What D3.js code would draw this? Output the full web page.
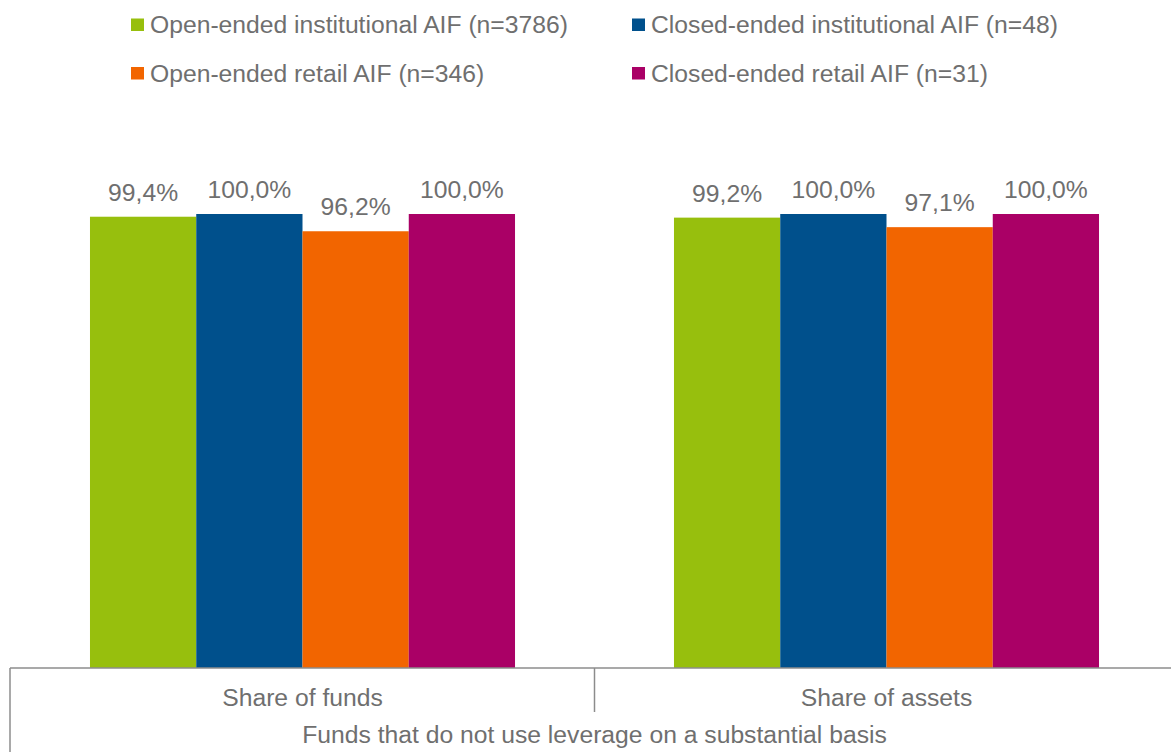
<!DOCTYPE html>
<html>
<head>
<meta charset="utf-8">
<script src="https://cdn.jsdelivr.net/npm/d3@7"></script>
<style>
  html, body { margin: 0; padding: 0; background: #fff; }
  svg { display: block; font-family: "Liberation Sans", Arial, sans-serif; }
</style>
</head>
<body>
<svg id="chart" width="1171" height="752"></svg>
<script>
// Chart data
const categories = ["Share of funds", "Share of assets"];
const seriesNames = [
  "Open-ended institutional AIF (n=3786)",
  "Closed-ended institutional AIF (n=48)",
  "Open-ended retail AIF (n=346)",
  "Closed-ended retail AIF (n=31)"
];
const seriesColors = ["#97bf0d", "#00508c", "#f26500", "#aa0066"];
const valuesOpenInst = [99.4, 99.2];
const valuesClosedInst = [100.0, 100.0];
const valuesOpenRetail = [96.2, 97.1];
const valuesClosedRetail = [100.0, 100.0];
const axisTitle = "Funds that do not use leverage on a substantial basis";

const seriesValues = [valuesOpenInst, valuesClosedInst, valuesOpenRetail, valuesClosedRetail];
const textColor = "#6f6f6f";
const lineColor = "#8c8c8c";
const fontSize = 24.7;

const svg = d3.select("#chart");

const x0 = d3.scaleBand().domain(categories).range([10.5, 1178.5]).paddingInner(0).paddingOuter(0);
const x1 = d3.scaleBand().domain(d3.range(seriesNames.length))
  .range([0, x0.bandwidth()]).paddingInner(0).paddingOuter(0.748);
const y = d3.scaleLinear().domain([0, 100]).range([668, 214]);

const fmt = v => d3.format(".1f")(v).replace(".", ",") + "%";

// Bars and value labels
const groups = svg.selectAll("g.cat").data(categories).join("g")
  .attr("class", "cat")
  .attr("transform", d => `translate(${x0(d)},0)`);

groups.each(function (cat, ci) {
  const g = d3.select(this);
  const rows = seriesValues.map((vals, si) => ({ si, v: vals[ci] }));
  g.selectAll("rect").data(rows).join("rect")
    .attr("x", d => x1(d.si))
    .attr("width", x1.bandwidth())
    .attr("y", d => y(d.v))
    .attr("height", d => y(0) - y(d.v))
    .attr("fill", d => seriesColors[d.si]);
  g.selectAll("text").data(rows).join("text")
    .attr("x", d => x1(d.si) + x1.bandwidth() / 2)
    .attr("y", d => y(d.v) - 16)
    .attr("text-anchor", "middle")
    .attr("font-size", fontSize)
    .attr("fill", textColor)
    .text(d => fmt(d.v));
});

// Category axis with group separators
const axisG = svg.append("g").attr("stroke", lineColor).attr("stroke-width", 1.5);
axisG.append("line").attr("x1", 10).attr("x2", 1171).attr("y1", y(0)).attr("y2", y(0));
axisG.append("line").attr("x1", 10).attr("x2", 10).attr("y1", y(0)).attr("y2", 752);
categories.slice(1).forEach(c => {
  axisG.append("line").attr("x1", x0(c)).attr("x2", x0(c)).attr("y1", y(0)).attr("y2", 712);
});

svg.selectAll("text.catlabel").data(categories).join("text")
  .attr("class", "catlabel")
  .attr("x", d => x0(d) + x0.bandwidth() / 2)
  .attr("y", 706)
  .attr("text-anchor", "middle")
  .attr("font-size", fontSize)
  .attr("fill", textColor)
  .text(d => d);

svg.append("text")
  .attr("x", (x0.range()[0] + x0.range()[1]) / 2)
  .attr("y", 743)
  .attr("text-anchor", "middle")
  .attr("font-size", fontSize)
  .attr("fill", textColor)
  .text(axisTitle);

// Legend: two columns, two rows
const legendPos = [[131, 18.5], [632, 18.5], [131, 67], [632, 67]];
const legend = svg.selectAll("g.legend").data(seriesNames).join("g")
  .attr("class", "legend")
  .attr("transform", (d, i) => `translate(${legendPos[i][0]},${legendPos[i][1]})`);
legend.append("rect").attr("width", 13).attr("height", 12.5).attr("fill", (d, i) => seriesColors[i]);
legend.append("text")
  .attr("x", 19).attr("y", 14.5)
  .attr("font-size", fontSize)
  .attr("fill", textColor)
  .text(d => d);
</script>
</body>
</html>
